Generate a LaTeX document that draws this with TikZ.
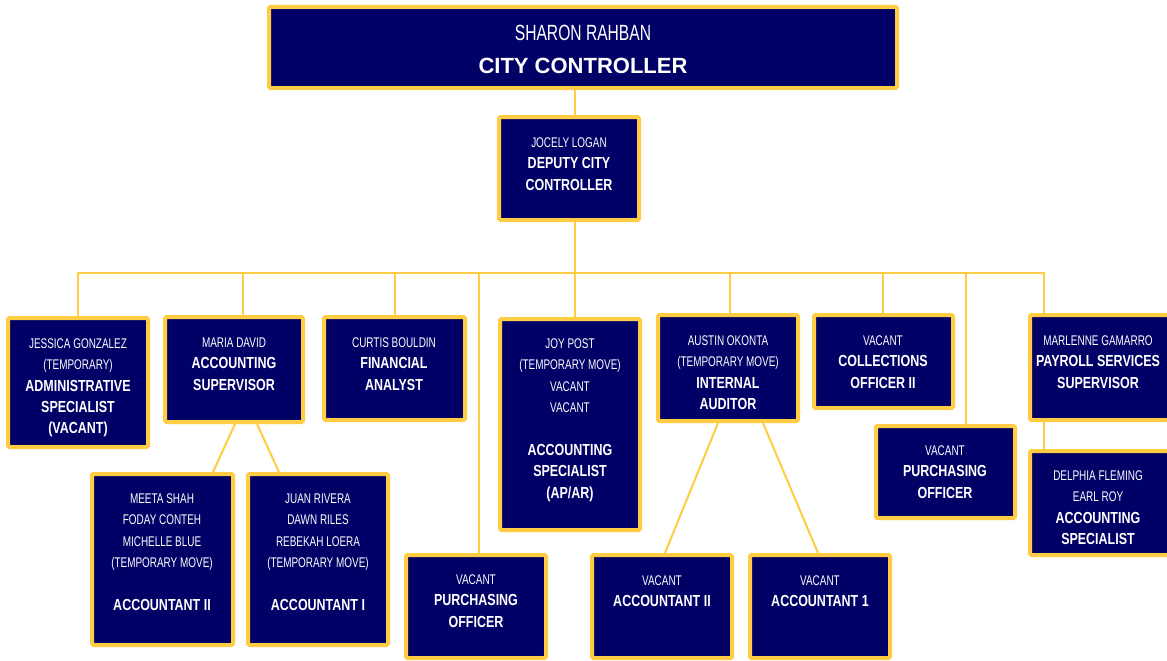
\documentclass[tikz,border=0pt]{standalone}
\usepackage{fontspec}
\setmainfont{Liberation Sans}[FakeStretch=0.71, BoldFeatures={FakeStretch=0.78}]
\newfontfamily\widefont{Liberation Sans}
\usetikzlibrary{calc}
\definecolor{navy}{RGB}{0,0,102}
\definecolor{gold}{RGB}{255,204,68}
\newcommand\Rg{\fontsize{14}{21.4}\selectfont}
\newcommand\Bd{\bfseries\fontsize{16}{21.4}\selectfont}
\newcommand\fs{\rule{0pt}{11pt}}
\newcommand\obox[5]{\node[box,minimum width={#4-#2-4},minimum height={#5-#3-4}] (#1) at ({(#2+#4)/2},{(#3+#5)/2}) {};}
\begin{document}
\begin{tikzpicture}[x=1pt,y=-1pt,
 box/.style={draw=gold,line width=4pt,fill=navy,rounded corners=1.5pt,inner sep=0pt},
 link/.style={draw=gold,line width=2pt},
 txt/.style={text=white,align=center,inner sep=0pt,anchor=north,font=\Rg}]
\useasboundingbox (0,0) rectangle (1167,661);
\fill[white] (0,0) rectangle (1167,661);
% boxes
\obox{top}{267}{5}{899}{90}
\obox{dep}{497}{115}{641}{222}
\obox{jess}{6}{316}{150}{449}
\obox{maria}{163}{315}{305}{424}
\obox{curt}{322}{315}{467}{422}
\obox{purchL}{404}{553}{548}{660}
\obox{joy}{498}{317}{642}{532}
\obox{aust}{656}{313}{800}{423}
\obox{coll}{812}{313}{955}{410}
\obox{purch}{874}{424}{1017}{520}
\obox{marl}{1028}{313}{1171}{422}
\obox{delph}{1028}{449}{1171}{557}
\obox{meeta}{90}{472}{235}{647}
\obox{juan}{246}{472}{390}{647}
\obox{accB}{590}{553}{734}{660}
\obox{accA}{748}{553}{892}{660}
% texts
\node[txt,font=\fontsize{22}{33}\selectfont] (topT) at (583,24) {\rule{0pt}{16pt}SHARON RAHBAN\\{\widefont\bfseries\fontsize{22}{33}\selectfont CITY CONTROLLER}};
\node[txt] (depT) at (569,136) {\fs JOCELY LOGAN\\{\Bd DEPUTY CITY}\\{\Bd CONTROLLER}};
\node[txt] (jessT) at (78,337) {\fs JESSICA GONZALEZ\\(TEMPORARY)\\{\Bd ADMINISTRATIVE}\\{\Bd SPECIALIST}\\{\Bd (VACANT)}};
\node[txt] (mariaT) at (234,336) {\fs MARIA DAVID\\{\Bd ACCOUNTING}\\{\Bd SUPERVISOR}};
\node[txt] (curtT) at (394,336) {\fs CURTIS BOULDIN\\{\Bd FINANCIAL}\\{\Bd ANALYST}};
\node[txt] (joyT) at (570,337) {\fs JOY POST\\(TEMPORARY MOVE)\\VACANT\\VACANT\\[21.4pt]{\Bd ACCOUNTING}\\{\Bd SPECIALIST}\\{\Bd (AP/AR)}};
\node[txt] (austT) at (728,334) {\fs AUSTIN OKONTA\\(TEMPORARY MOVE)\\{\Bd INTERNAL}\\{\Bd AUDITOR}};
\node[txt] (collT) at (883,334) {\fs VACANT\\{\Bd COLLECTIONS}\\{\Bd OFFICER II}};
\node[txt] (purchT) at (945,444) {\fs VACANT\\{\Bd PURCHASING}\\{\Bd OFFICER}};
\node[txt] (marlT) at (1098,334) {\fs MARLENNE GAMARRO\\{\Bd PAYROLL SERVICES}\\{\Bd SUPERVISOR}};
\node[txt] (delphT) at (1098,469) {\fs DELPHIA FLEMING\\EARL ROY\\{\Bd ACCOUNTING}\\{\Bd SPECIALIST}};
\node[txt] (meetaT) at (162,492) {\fs MEETA SHAH\\FODAY CONTEH\\MICHELLE BLUE\\(TEMPORARY MOVE)\\[21.4pt]{\Bd ACCOUNTANT II}};
\node[txt] (juanT) at (318,492) {\fs JUAN RIVERA\\DAWN RILES\\REBEKAH LOERA\\(TEMPORARY MOVE)\\[21.4pt]{\Bd ACCOUNTANT I}};
\node[txt] (purchLT) at (476,573) {\fs VACANT\\{\Bd PURCHASING}\\{\Bd OFFICER}};
\node[txt] (accBT) at (662,574) {\fs VACANT\\{\Bd ACCOUNTANT II}};
\node[txt] (accAT) at (820,574) {\fs VACANT\\{\Bd ACCOUNTANT 1}};
% bus coordinates
\coordinate (bus) at (575,273);
\coordinate (dMaria) at (243,273);
\coordinate (dCurt) at (395,273);
\coordinate (dPurchL) at (479,273);
\coordinate (dAust) at (730,273);
\coordinate (dColl) at (883,273);
\coordinate (dPurch) at (966,273);
\coordinate (dMarl) at (1044,273);
% connectors
\draw[link] (top.south -| bus) -- (dep.north -| bus);
\draw[link] (dep.south -| bus) -- (bus);
\draw[link] (jess.north) |- (dMarl) -- (dMarl |- marl.north);
\draw[link] (dMaria) -- (dMaria |- maria.north);
\draw[link] (dCurt) -- (dCurt |- curt.north);
\draw[link] (dPurchL) -- (dPurchL |- purchL.north);
\draw[link] (bus) -- (bus |- joy.north);
\draw[link] (dAust) -- (dAust |- aust.north);
\draw[link] (dColl) -- (dColl |- coll.north);
\draw[link] (dPurch) -- (dPurch |- purch.north);
\draw[link] (dMarl |- marl.south) -- (dMarl |- delph.north);
\draw[link] ([xshift=1pt]maria.south) -- ([xshift=50.5pt]meeta.north);
\draw[link] ([xshift=23pt]maria.south) -- ([xshift=-39pt]juan.north);
\draw[link] ([xshift=-10pt]aust.south) -- ([xshift=3pt]accB.north);
\draw[link] ([xshift=35pt]aust.south) -- ([xshift=-2pt]accA.north);
\end{tikzpicture}
\end{document}
